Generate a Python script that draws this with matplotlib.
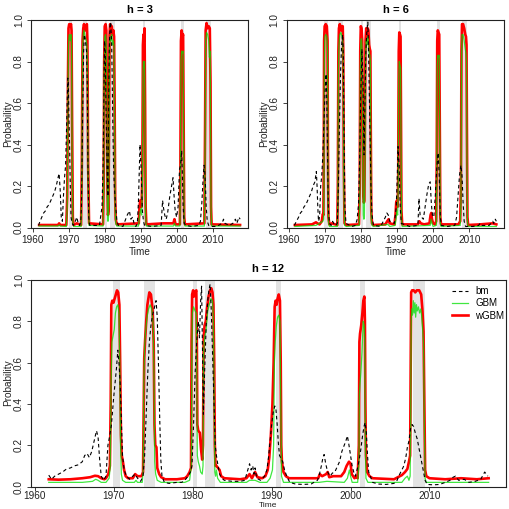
import matplotlib
matplotlib.use("Agg")
import matplotlib.pyplot as plt
from matplotlib.lines import Line2D

plt.rcParams['font.family'] = ['Liberation Sans', 'DejaVu Sans']

# NBER recession periods (shaded)
rec_start = [1969.92, 1973.83, 1980.0, 1981.5, 1990.5, 2001.17, 2007.92]
rec_end = [1970.83, 1975.17, 1980.5, 1982.83, 1991.17, 2001.83, 2009.42]

year_ticks = [1960, 1970, 1980, 1990, 2000, 2010]
prob_ticks = [0.0, 0.2, 0.4, 0.6, 0.8, 1.0]
prob_labels = ["0.0", "0.2", "0.4", "0.6", "0.8", "1.0"]
series_names = ["bm", "GBM", "wGBM"]

# ---------------- h = 3 ----------------
h3_bm_t = [1961.6, 1962.0, 1962.5, 1963.0, 1963.5, 1964.0, 1964.5, 1965.0, 1965.5, 1966.0, 1966.5, 1967.0, 1967.3,
           1967.6, 1967.9, 1968.2, 1968.5, 1968.8, 1969.1, 1969.4, 1969.7, 1969.85, 1970.0, 1970.2, 1970.4, 1970.6,
           1970.9, 1971.3, 1971.8, 1972.2, 1972.6, 1973.0, 1973.3, 1973.5, 1973.8, 1974.1, 1974.3, 1974.6, 1974.9,
           1975.1, 1975.3, 1975.5, 1975.8, 1977.0, 1978.5, 1978.8, 1979.2, 1979.5, 1979.7, 1979.9, 1980.1, 1980.3,
           1980.6, 1980.85, 1981.0, 1981.2, 1981.4, 1981.6, 1981.85, 1982.0, 1982.2, 1982.4, 1982.6, 1982.8, 1983.0,
           1983.3, 1983.7, 1985.0, 1986.2, 1986.8, 1987.2, 1987.7, 1988.2, 1988.6, 1989.0, 1989.3, 1989.5, 1989.75,
           1990.0, 1990.2, 1990.4, 1990.7, 1991.0, 1993.0, 1995.6, 1996.0, 1996.3, 1996.6, 1997.0, 1997.4, 1998.0,
           1998.5, 1998.9, 1999.2, 1999.5, 1999.9, 2000.3, 2000.7, 2001.0, 2001.3, 2001.5, 2001.7, 2002.0, 2002.5,
           2004.0, 2006.0, 2006.5, 2006.9, 2007.2, 2007.5, 2007.7, 2007.9, 2008.1, 2008.4, 2008.8, 2009.5, 2011.0,
           2012.5, 2012.9, 2013.3, 2014.5, 2015.5, 2016.2, 2016.6, 2017.2, 2017.5]
h3_bm_p = [0.01, 0.03, 0.05, 0.07, 0.08, 0.10, 0.11, 0.13, 0.15, 0.17, 0.20, 0.24, 0.26,
           0.18, 0.05, 0.03, 0.15, 0.24, 0.30, 0.50, 0.72, 0.70, 0.55, 0.40, 0.20, 0.05,
           0.02, 0.01, 0.03, 0.05, 0.02, 0.01, 0.03, 0.10, 0.50, 0.85, 0.93, 0.90, 0.85,
           0.70, 0.30, 0.05, 0.01, 0.01, 0.01, 0.05, 0.10, 0.30, 0.60, 0.90, 0.85, 0.60,
           0.30, 0.15, 0.50, 0.85, 0.97, 0.99, 0.90, 0.75, 0.50, 0.30, 0.20, 0.15, 0.10,
           0.04, 0.01, 0.005, 0.06, 0.08, 0.04, 0.05, 0.01, 0.005, 0.02, 0.12, 0.25, 0.40,
           0.30, 0.20, 0.08, 0.03, 0.01, 0.005, 0.01, 0.13, 0.09, 0.06, 0.04, 0.07, 0.15,
           0.20, 0.24, 0.15, 0.08, 0.05, 0.10, 0.28, 0.30, 0.37, 0.25, 0.10, 0.02, 0.01,
           0.005, 0.01, 0.03, 0.12, 0.22, 0.30, 0.27, 0.20, 0.10, 0.03, 0.01, 0.005, 0.005,
           0.02, 0.04, 0.02, 0.01, 0.02, 0.04, 0.02, 0.05, 0.04]

h3_gbm_t = [1961.75, 1967.0, 1967.3, 1967.6, 1969.3, 1969.55, 1969.75, 1969.9, 1970.1, 1970.4, 1970.6, 1970.75,
            1970.9, 1971.1, 1971.3, 1973.4, 1973.6, 1973.8, 1974.0, 1974.2, 1974.5, 1974.8, 1975.0, 1975.15,
            1975.35, 1975.6, 1979.5, 1979.65, 1979.8, 1979.95, 1980.2, 1980.4, 1980.55, 1980.7, 1980.85, 1981.0,
            1981.15, 1981.3, 1981.45, 1981.7, 1981.9, 1982.1, 1982.35, 1982.55, 1982.7, 1982.85, 1983.0, 1983.3,
            1989.3, 1989.6, 1989.8, 1990.0, 1990.2, 1990.4, 1990.55, 1990.7, 1990.85, 1991.0, 1991.15, 1991.3,
            1991.5, 1999.0, 1999.3, 1999.6, 2000.8, 2000.95, 2001.1, 2001.3, 2001.5, 2001.7, 2001.85, 2002.0,
            2002.2, 2007.6, 2007.8, 2007.95, 2008.2, 2008.5, 2008.8, 2009.0, 2009.2, 2009.3, 2009.45, 2009.6,
            2017.5]
h3_gbm_p = [0.007, 0.007, 0.012, 0.007, 0.005, 0.10, 0.60, 0.88, 0.93, 0.90, 0.93, 0.88,
            0.40, 0.03, 0.005, 0.005, 0.25, 0.85, 0.93, 0.95, 0.92, 0.90, 0.88, 0.80,
            0.25, 0.01, 0.007, 0.15, 0.70, 0.92, 0.93, 0.88, 0.50, 0.10, 0.03, 0.05,
            0.40, 0.88, 0.92, 0.90, 0.93, 0.88, 0.90, 0.87, 0.50, 0.10, 0.02, 0.007,
            0.007, 0.05, 0.08, 0.09, 0.06, 0.20, 0.75, 0.80, 0.77, 0.80, 0.40, 0.05,
            0.007, 0.007, 0.02, 0.007, 0.007, 0.20, 0.80, 0.85, 0.84, 0.85, 0.40, 0.03,
            0.007, 0.007, 0.40, 0.90, 0.94, 0.93, 0.90, 0.82, 0.85, 0.60, 0.08, 0.007,
            0.007]

h3_wgbm_t = [1961.75, 1967.0, 1967.3, 1967.6, 1969.3, 1969.55, 1969.75, 1969.9, 1970.1, 1970.4, 1970.6, 1970.75,
             1970.9, 1971.1, 1971.3, 1972.2, 1973.4, 1973.6, 1973.8, 1974.0, 1974.2, 1974.5, 1974.8, 1975.0,
             1975.15, 1975.35, 1975.6, 1979.5, 1979.65, 1979.8, 1979.95, 1980.2, 1980.4, 1980.55, 1980.7, 1980.85,
             1981.0, 1981.15, 1981.3, 1981.45, 1981.7, 1981.9, 1982.1, 1982.35, 1982.55, 1982.7, 1982.85, 1983.0,
             1983.3, 1989.4, 1989.6, 1989.8, 1990.0, 1990.2, 1990.4, 1990.55, 1990.7, 1990.85, 1991.0, 1991.15,
             1991.3, 1991.5, 1996.2, 1999.0, 1999.3, 1999.6, 2000.8, 2000.95, 2001.1, 2001.3, 2001.5, 2001.7,
             2001.85, 2002.0, 2002.2, 2007.6, 2007.8, 2007.95, 2008.2, 2008.5, 2008.8, 2009.1, 2009.3, 2009.45,
             2009.6, 2017.5]
h3_wgbm_p = [0.012, 0.012, 0.02, 0.012, 0.012, 0.15, 0.70, 0.96, 0.98, 0.97, 0.98, 0.95,
             0.50, 0.05, 0.012, 0.02, 0.012, 0.30, 0.90, 0.96, 0.98, 0.95, 0.97, 0.98,
             0.90, 0.30, 0.02, 0.015, 0.20, 0.80, 0.97, 0.98, 0.95, 0.60, 0.20, 0.06,
             0.08, 0.50, 0.93, 0.98, 0.95, 0.97, 0.93, 0.95, 0.92, 0.60, 0.15, 0.04,
             0.015, 0.02, 0.10, 0.13, 0.12, 0.10, 0.30, 0.88, 0.93, 0.90, 0.96, 0.60,
             0.10, 0.015, 0.02, 0.02, 0.04, 0.015, 0.015, 0.30, 0.90, 0.95, 0.92, 0.93,
             0.50, 0.05, 0.015, 0.02, 0.50, 0.95, 0.985, 0.96, 0.97, 0.96, 0.70, 0.10,
             0.015, 0.012]

# ---------------- h = 6 ----------------
h6_bm_t = [1961.6, 1962.2, 1962.8, 1963.3, 1963.8, 1964.3, 1964.8, 1965.3, 1965.8, 1966.3, 1966.8, 1967.3, 1967.7,
           1967.9, 1968.1, 1968.3, 1968.6, 1968.9, 1969.2, 1969.5, 1969.8, 1970.1, 1970.4, 1970.6, 1970.8, 1971.0,
           1971.3, 1971.8, 1972.2, 1972.5, 1973.0, 1973.5, 1973.8, 1974.1, 1974.4, 1974.7, 1975.0, 1975.2, 1975.4,
           1975.6, 1975.9, 1977.5, 1978.5, 1979.0, 1979.4, 1979.7, 1980.0, 1980.3, 1980.6, 1980.9, 1981.1, 1981.4,
           1981.7, 1981.95, 1982.2, 1982.5, 1982.8, 1983.1, 1983.5, 1985.5, 1986.8, 1987.2, 1987.6, 1988.0, 1989.3,
           1989.8, 1990.1, 1990.3, 1990.6, 1990.9, 1991.2, 1993.5, 1995.8, 1996.1, 1996.4, 1996.8, 1997.3, 1997.8,
           1998.3, 1998.8, 1999.2, 1999.5, 1999.8, 2000.2, 2000.6, 2001.0, 2001.4, 2001.7, 2002.0, 2002.3, 2004.0,
           2006.0, 2006.5, 2006.9, 2007.3, 2007.7, 2008.0, 2008.3, 2008.6, 2009.0, 2011.0, 2012.6, 2013.0, 2013.4,
           2015.5, 2016.5, 2016.8, 2017.2, 2017.5]
h6_bm_p = [0.01, 0.03, 0.05, 0.07, 0.08, 0.10, 0.11, 0.13, 0.15, 0.17, 0.20, 0.22, 0.27,
           0.20, 0.10, 0.03, 0.05, 0.20, 0.25, 0.35, 0.50, 0.65, 0.74, 0.60, 0.35, 0.10,
           0.02, 0.01, 0.03, 0.02, 0.01, 0.02, 0.20, 0.50, 0.75, 0.88, 0.93, 0.80, 0.40,
           0.10, 0.02, 0.005, 0.01, 0.04, 0.12, 0.35, 0.65, 0.86, 0.70, 0.35, 0.55, 0.85,
           0.95, 0.99, 0.80, 0.50, 0.20, 0.06, 0.01, 0.005, 0.05, 0.07, 0.06, 0.03, 0.02,
           0.10, 0.25, 0.39, 0.30, 0.10, 0.02, 0.005, 0.01, 0.14, 0.06, 0.05, 0.04, 0.10,
           0.16, 0.21, 0.22, 0.12, 0.06, 0.05, 0.15, 0.28, 0.36, 0.25, 0.05, 0.01, 0.005,
           0.01, 0.05, 0.15, 0.25, 0.30, 0.25, 0.12, 0.03, 0.005, 0.005, 0.01, 0.02, 0.01,
           0.01, 0.03, 0.02, 0.04, 0.03]

h6_gbm_t = [1961.75, 1967.6, 1969.5, 1969.7, 1969.8, 1969.9, 1970.05, 1970.3, 1970.6, 1970.8, 1970.9, 1971.05,
            1971.3, 1973.5, 1973.65, 1973.8, 1973.95, 1974.2, 1974.5, 1974.8, 1975.0, 1975.15, 1975.3, 1975.5,
            1976.0, 1979.55, 1979.72, 1979.85, 1980.0, 1980.2, 1980.4, 1980.55, 1980.7, 1980.85, 1981.0, 1981.15,
            1981.3, 1981.5, 1981.7, 1981.9, 1982.1, 1982.3, 1982.5, 1982.65, 1982.75, 1982.9, 1983.1, 1983.5,
            1987.5, 1988.0, 1989.5, 1989.8, 1990.0, 1990.2, 1990.35, 1990.5, 1990.65, 1990.85, 1991.0, 1991.1,
            1991.25, 1991.45, 1999.2, 1999.45, 1999.7, 2000.0, 2000.9, 2001.0, 2001.15, 2001.3, 2001.5, 2001.7,
            2001.85, 2002.0, 2002.2, 2007.5, 2007.7, 2007.85, 2008.0, 2008.3, 2008.6, 2008.9, 2009.1, 2009.25,
            2009.35, 2009.5, 2009.7, 2017.5]
h6_gbm_p = [0.005, 0.01, 0.03, 0.04, 0.20, 0.80, 0.92, 0.93, 0.92, 0.85, 0.30, 0.03,
            0.005, 0.005, 0.12, 0.75, 0.88, 0.93, 0.94, 0.92, 0.90, 0.78, 0.20, 0.01,
            0.005, 0.01, 0.12, 0.75, 0.90, 0.91, 0.85, 0.30, 0.06, 0.04, 0.05, 0.35,
            0.82, 0.90, 0.88, 0.92, 0.90, 0.84, 0.83, 0.80, 0.40, 0.04, 0.01, 0.005,
            0.015, 0.005, 0.01, 0.05, 0.08, 0.06, 0.20, 0.72, 0.80, 0.78, 0.77, 0.50,
            0.04, 0.005, 0.01, 0.04, 0.02, 0.005, 0.01, 0.20, 0.78, 0.83, 0.82, 0.83,
            0.40, 0.02, 0.005, 0.01, 0.12, 0.80, 0.93, 0.93, 0.90, 0.86, 0.84, 0.80,
            0.40, 0.03, 0.005, 0.005]

h6_wgbm_t = [1961.75, 1966.5, 1967.6, 1968.0, 1968.6, 1969.2, 1969.5, 1969.65, 1969.75, 1969.85, 1970.0, 1970.3,
             1970.6, 1970.8, 1970.9, 1971.05, 1971.3, 1972.0, 1973.5, 1973.65, 1973.8, 1973.95, 1974.2, 1974.5,
             1974.8, 1975.0, 1975.15, 1975.3, 1975.5, 1976.0, 1979.5, 1979.7, 1979.85, 1980.0, 1980.2, 1980.4,
             1980.55, 1980.7, 1980.85, 1981.0, 1981.15, 1981.3, 1981.5, 1981.7, 1981.9, 1982.1, 1982.3, 1982.5,
             1982.65, 1982.75, 1982.9, 1983.1, 1983.5, 1986.8, 1987.3, 1987.7, 1988.0, 1989.3, 1989.6, 1989.8,
             1990.0, 1990.2, 1990.35, 1990.5, 1990.65, 1990.85, 1991.0, 1991.1, 1991.25, 1991.45, 1995.8, 1996.2,
             1996.6, 1997.5, 1999.0, 1999.3, 1999.5, 1999.7, 2000.0, 2000.5, 2000.85, 2001.0, 2001.15, 2001.3,
             2001.5, 2001.7, 2001.85, 2002.0, 2002.2, 2007.0, 2007.5, 2007.7, 2007.85, 2008.0, 2008.3, 2008.6,
             2008.9, 2009.1, 2009.25, 2009.35, 2009.5, 2009.7, 2013.0, 2016.5, 2017.5]
h6_wgbm_p = [0.012, 0.015, 0.025, 0.02, 0.015, 0.03, 0.065, 0.06, 0.30, 0.90, 0.97, 0.98,
             0.97, 0.90, 0.40, 0.05, 0.015, 0.02, 0.012, 0.20, 0.85, 0.96, 0.98, 0.95,
             0.97, 0.97, 0.85, 0.30, 0.02, 0.012, 0.015, 0.20, 0.85, 0.97, 0.96, 0.90,
             0.40, 0.15, 0.12, 0.13, 0.50, 0.90, 0.96, 0.93, 0.96, 0.95, 0.88, 0.86,
             0.85, 0.50, 0.08, 0.02, 0.012, 0.015, 0.03, 0.04, 0.02, 0.015, 0.06, 0.12,
             0.13, 0.10, 0.25, 0.85, 0.94, 0.93, 0.92, 0.60, 0.08, 0.015, 0.015, 0.03,
             0.02, 0.015, 0.02, 0.06, 0.07, 0.04, 0.02, 0.015, 0.03, 0.30, 0.90, 0.95,
             0.94, 0.93, 0.50, 0.05, 0.015, 0.015, 0.03, 0.20, 0.85, 0.98, 0.98, 0.96,
             0.93, 0.92, 0.88, 0.50, 0.05, 0.012, 0.015, 0.02, 0.015]

# ---------------- h = 12 ----------------
h12_bm_t = [1961.75, 1962.1, 1962.5, 1963.0, 1963.5, 1964.0, 1964.5, 1965.0, 1965.5, 1966.0, 1966.3, 1966.6,
            1966.9, 1967.2, 1967.5, 1967.8, 1968.0, 1968.2, 1968.4, 1968.7, 1969.0, 1969.25, 1969.45, 1969.7,
            1969.95, 1970.15, 1970.35, 1970.5, 1970.65, 1970.8, 1970.95, 1971.1, 1971.3, 1971.6, 1972.0, 1972.4,
            1972.7, 1973.0, 1973.4, 1973.7, 1973.9, 1974.1, 1974.3, 1974.5, 1974.7, 1974.9, 1975.1, 1975.35,
            1975.5, 1975.65, 1975.8, 1975.95, 1976.1, 1976.4, 1977.0, 1978.0, 1978.6, 1979.0, 1979.4, 1979.7,
            1979.9, 1980.1, 1980.3, 1980.5, 1980.7, 1980.85, 1981.0, 1981.12, 1981.25, 1981.35, 1981.5, 1981.7,
            1981.9, 1982.05, 1982.2, 1982.35, 1982.5, 1982.7, 1982.85, 1983.0, 1983.2, 1983.4, 1983.7, 1984.0,
            1985.0, 1986.0, 1986.6, 1986.9, 1987.2, 1987.4, 1987.6, 1987.75, 1987.9, 1988.1, 1988.6, 1989.1,
            1989.4, 1989.6, 1989.8, 1990.0, 1990.2, 1990.4, 1990.55, 1990.7, 1990.85, 1991.0, 1991.2, 1991.4,
            1991.6, 1991.9, 1992.3, 1993.0, 1994.0, 1995.0, 1995.8, 1996.0, 1996.3, 1996.5, 1996.65, 1996.85,
            1997.1, 1997.4, 1997.7, 1998.0, 1998.3, 1998.6, 1998.9, 1999.2, 1999.4, 1999.6, 1999.8, 2000.0,
            2000.2, 2000.4, 2000.6, 2000.85, 2001.1, 2001.3, 2001.5, 2001.7, 2001.85, 2002.0, 2002.15, 2002.3,
            2002.5, 2002.8, 2003.5, 2004.5, 2005.5, 2005.9, 2006.1, 2006.5, 2006.75, 2007.0, 2007.2, 2007.4,
            2007.6, 2007.8, 2008.0, 2008.2, 2008.45, 2008.65, 2008.85, 2009.05, 2009.25, 2009.45, 2009.7, 2010.5,
            2011.3, 2012.0, 2012.6, 2013.0, 2013.3, 2013.7, 2014.4, 2015.0, 2015.8, 2016.5, 2017.0, 2017.4]
h12_bm_p = [0.055, 0.035, 0.05, 0.06, 0.07, 0.085, 0.09, 0.10, 0.105, 0.12, 0.15, 0.16,
            0.14, 0.17, 0.22, 0.27, 0.24, 0.13, 0.05, 0.03, 0.05, 0.20, 0.24, 0.30,
            0.42, 0.50, 0.58, 0.66, 0.60, 0.50, 0.32, 0.15, 0.08, 0.05, 0.035, 0.05,
            0.06, 0.04, 0.025, 0.05, 0.15, 0.35, 0.55, 0.70, 0.78, 0.83, 0.86, 0.90,
            0.82, 0.60, 0.35, 0.13, 0.05, 0.02, 0.015, 0.02, 0.02, 0.03, 0.05, 0.07,
            0.10, 0.30, 0.55, 0.70, 0.80, 0.72, 0.90, 0.97, 0.60, 0.35, 0.55, 0.78,
            0.90, 0.95, 0.98, 0.85, 0.65, 0.40, 0.20, 0.15, 0.10, 0.06, 0.04, 0.03,
            0.025, 0.025, 0.03, 0.07, 0.11, 0.08, 0.10, 0.06, 0.09, 0.04, 0.03, 0.05,
            0.08, 0.14, 0.22, 0.30, 0.36, 0.39, 0.37, 0.30, 0.21, 0.15, 0.135, 0.12,
            0.085, 0.05, 0.02, 0.012, 0.01, 0.012, 0.03, 0.05, 0.10, 0.14, 0.155, 0.11,
            0.07, 0.05, 0.065, 0.07, 0.095, 0.12, 0.17, 0.20, 0.22, 0.245, 0.20, 0.15,
            0.10, 0.07, 0.05, 0.085, 0.13, 0.18, 0.24, 0.29, 0.31, 0.26, 0.15, 0.07,
            0.05, 0.02, 0.012, 0.01, 0.015, 0.03, 0.05, 0.08, 0.10, 0.14, 0.19, 0.22,
            0.28, 0.30, 0.29, 0.26, 0.23, 0.19, 0.15, 0.11, 0.07, 0.03, 0.01, 0.008,
            0.01, 0.02, 0.03, 0.045, 0.05, 0.03, 0.035, 0.02, 0.025, 0.035, 0.07, 0.05]

h12_gbm_t = [1961.75, 1966.0, 1967.3, 1967.7, 1968.0, 1968.4, 1969.0, 1969.4, 1969.55, 1969.65, 1969.75, 1969.9,
             1970.05, 1970.2, 1970.35, 1970.5, 1970.65, 1970.75, 1970.85, 1970.95, 1971.1, 1971.5, 1972.6, 1972.8,
             1973.0, 1973.6, 1973.72, 1973.8, 1973.9, 1974.0, 1974.2, 1974.4, 1974.6, 1974.8, 1975.0, 1975.1,
             1975.18, 1975.3, 1975.5, 1976.0, 1979.0, 1979.6, 1979.82, 1979.88, 1979.95, 1980.1, 1980.3, 1980.45,
             1980.52, 1980.58, 1980.7, 1980.85, 1981.0, 1981.2, 1981.3, 1981.38, 1981.5, 1981.7, 1981.9, 1982.1,
             1982.3, 1982.5, 1982.62, 1982.72, 1982.8, 1982.9, 1983.0, 1983.15, 1983.5, 1986.8, 1987.2, 1987.9,
             1988.5, 1989.4, 1989.8, 1990.1, 1990.25, 1990.35, 1990.45, 1990.6, 1990.75, 1990.9, 1991.05, 1991.15,
             1991.25, 1991.5, 1996.0, 1997.0, 1999.2, 1999.6, 1999.85, 2000.0, 2000.2, 2000.9, 2001.05, 2001.12,
             2001.2, 2001.3, 2001.45, 2001.6, 2001.72, 2001.8, 2001.88, 2001.95, 2002.2, 2006.5, 2006.9, 2007.2,
             2007.4, 2007.55, 2007.62, 2007.68, 2007.75, 2007.85, 2007.95, 2008.05, 2008.15, 2008.25, 2008.35,
             2008.45, 2008.6, 2008.75, 2008.9, 2009.0, 2009.1, 2009.25, 2009.35, 2009.45, 2009.6, 2017.5]
h12_gbm_p = [0.02, 0.02, 0.025, 0.035, 0.03, 0.02, 0.02, 0.04, 0.10, 0.50, 0.70, 0.73,
             0.76, 0.84, 0.87, 0.88, 0.84, 0.60, 0.20, 0.06, 0.03, 0.02, 0.02, 0.03,
             0.02, 0.02, 0.08, 0.50, 0.68, 0.74, 0.82, 0.86, 0.88, 0.86, 0.78, 0.50,
             0.12, 0.06, 0.03, 0.02, 0.02, 0.03, 0.10, 0.60, 0.84, 0.87, 0.85, 0.84,
             0.50, 0.15, 0.12, 0.10, 0.07, 0.06, 0.10, 0.65, 0.72, 0.76, 0.85, 0.88,
             0.91, 0.90, 0.82, 0.40, 0.07, 0.05, 0.08, 0.04, 0.02, 0.02, 0.03, 0.03,
             0.02, 0.02, 0.04, 0.08, 0.20, 0.60, 0.70, 0.78, 0.82, 0.83, 0.80, 0.40,
             0.05, 0.02, 0.02, 0.025, 0.02, 0.04, 0.08, 0.05, 0.02, 0.02, 0.10, 0.45,
             0.50, 0.55, 0.65, 0.80, 0.78, 0.70, 0.20, 0.04, 0.02, 0.02, 0.04, 0.05,
             0.03, 0.05, 0.30, 0.80, 0.86, 0.83, 0.90, 0.84, 0.89, 0.82, 0.88,
             0.85, 0.87, 0.84, 0.86, 0.83, 0.78, 0.70, 0.30, 0.04, 0.02, 0.02]

h12_wgbm_t = [1961.75, 1963.0, 1964.5, 1966.0, 1967.0, 1967.6, 1968.0, 1968.4, 1968.8, 1969.0, 1969.3, 1969.5,
              1969.6, 1969.68, 1969.8, 1969.95, 1970.1, 1970.25, 1970.4, 1970.55, 1970.7, 1970.8, 1970.9, 1971.0,
              1971.15, 1971.3, 1971.5, 1971.8, 1972.4, 1972.7, 1973.0, 1973.5, 1973.7, 1973.78, 1973.85, 1973.95,
              1974.1, 1974.25, 1974.5, 1974.7, 1974.9, 1975.05, 1975.15, 1975.25, 1975.4, 1975.5, 1975.75, 1976.0,
              1976.5, 1978.0, 1979.0, 1979.3, 1979.6, 1979.78, 1979.85, 1979.92, 1980.05, 1980.15, 1980.3, 1980.45,
              1980.52, 1980.58, 1980.7, 1980.9, 1981.05, 1981.2, 1981.3, 1981.38, 1981.5, 1981.65, 1981.8, 1982.0,
              1982.2, 1982.35, 1982.5, 1982.62, 1982.72, 1982.8, 1982.88, 1983.0, 1983.2, 1983.4, 1983.6, 1984.0,
              1986.0, 1986.8, 1987.2, 1987.5, 1987.9, 1988.2, 1988.8, 1989.2, 1989.5, 1989.7, 1989.9, 1990.1,
              1990.25, 1990.38, 1990.5, 1990.62, 1990.75, 1990.9, 1991.05, 1991.15, 1991.22, 1991.3, 1991.5,
              1991.8, 1992.2, 1995.9, 1996.1, 1996.4, 1996.9, 1997.1, 1997.3, 1997.8, 1998.3, 1998.8, 1999.2,
              1999.5, 1999.8, 2000.0, 2000.15, 2000.5, 2000.8, 2000.9, 2001.05, 2001.12, 2001.2, 2001.35, 2001.5,
              2001.62, 2001.75, 2001.82, 2001.88, 2001.95, 2002.1, 2002.4, 2002.8, 2005.5, 2006.0, 2006.5, 2006.9,
              2007.2, 2007.4, 2007.55, 2007.62, 2007.68, 2007.8, 2008.0, 2008.2, 2008.4, 2008.7, 2008.95, 2009.1,
              2009.25, 2009.35, 2009.45, 2009.6, 2010.0, 2012.0, 2014.0, 2016.0, 2017.5]
h12_wgbm_p = [0.035, 0.033, 0.035, 0.04, 0.045, 0.052, 0.05, 0.04, 0.035, 0.04, 0.06, 0.10,
              0.40, 0.88, 0.90, 0.89, 0.91, 0.93, 0.95, 0.94, 0.88, 0.60, 0.25, 0.15,
              0.12, 0.08, 0.05, 0.04, 0.04, 0.06, 0.05, 0.05, 0.07, 0.35, 0.62, 0.70,
              0.80, 0.88, 0.94, 0.93, 0.86, 0.70, 0.30, 0.20, 0.19, 0.09, 0.06, 0.045,
              0.035, 0.035, 0.04, 0.05, 0.07, 0.09, 0.70, 0.93, 0.95, 0.92, 0.94, 0.95,
              0.70, 0.30, 0.27, 0.26, 0.18, 0.13, 0.20, 0.72, 0.78, 0.80, 0.86, 0.92,
              0.95, 0.96, 0.94, 0.88, 0.60, 0.20, 0.10, 0.10, 0.09, 0.08, 0.05, 0.04,
              0.035, 0.04, 0.06, 0.04, 0.07, 0.045, 0.04, 0.05, 0.08, 0.14, 0.25, 0.40,
              0.60, 0.87, 0.90, 0.88, 0.91, 0.93, 0.90, 0.60, 0.20, 0.12, 0.07,
              0.05, 0.04, 0.04, 0.06, 0.05, 0.06, 0.07, 0.045, 0.05, 0.05, 0.05, 0.07,
              0.10, 0.12, 0.11, 0.06, 0.04, 0.05, 0.04, 0.20, 0.70, 0.74, 0.78, 0.84,
              0.90, 0.92, 0.80, 0.40, 0.15, 0.07, 0.05, 0.04, 0.035, 0.045, 0.055, 0.07,
              0.085, 0.12, 0.15, 0.60, 0.94, 0.95, 0.95, 0.94, 0.95, 0.95, 0.93, 0.86,
              0.75, 0.40, 0.08, 0.05, 0.04, 0.035, 0.04, 0.035, 0.04]

# ---------------- drawing ----------------
FIG_W, FIG_H = 510, 509
fig = plt.figure(figsize=(FIG_W / 100, FIG_H / 100), dpi=100)


def box(left, top, right, bottom):
    return [left / FIG_W, 1 - bottom / FIG_H, (right - left) / FIG_W, (bottom - top) / FIG_H]


def panel(rect, bm_t, bm_p, gbm_t, gbm_p, wgbm_t, wgbm_p, xpad=2, xlen=3.2):
    ax = fig.add_axes(rect)
    for s, e in zip(rec_start, rec_end):
        ax.axvspan(s, e, color='#e3e3e3', lw=0, zorder=0)
    ax.plot(wgbm_t, wgbm_p, color='#ff0000', lw=1.9, zorder=2, solid_joinstyle='round')
    ax.plot(gbm_t, gbm_p, color='#00e000', lw=0.9, alpha=0.75, zorder=3)
    ax.plot(bm_t, bm_p, color='black', lw=0.8, dashes=(3.2, 2.6), zorder=4)
    ax.set_xlim(1959.5, 2019.7)
    ax.set_ylim(0, 1.0)
    ax.set_xticks(year_ticks)
    ax.set_xticklabels([str(y) for y in year_ticks])
    ax.set_yticks(prob_ticks)
    ax.set_yticklabels(prob_labels, rotation=90, va='center')
    ax.tick_params(direction='out', length=3.2, width=0.6, labelsize=7.2, pad=2, colors='#222222')
    ax.tick_params(axis='x', pad=xpad, length=xlen)
    for sp in ax.spines.values():
        sp.set_linewidth(0.8)
        sp.set_color('#222222')
    return ax


ax1 = panel(box(31, 20, 248, 227.5), h3_bm_t, h3_bm_p, h3_gbm_t, h3_gbm_p, h3_wgbm_t, h3_wgbm_p)
ax2 = panel(box(286.7, 20, 504.3, 227.5), h6_bm_t, h6_bm_p, h6_gbm_t, h6_gbm_p, h6_wgbm_t, h6_wgbm_p)
ax3 = panel(box(31, 280, 506, 486.5), h12_bm_t, h12_bm_p, h12_gbm_t, h12_gbm_p, h12_wgbm_t, h12_wgbm_p,
            xpad=0.8, xlen=2.6)

# titles
fig.text(139.5 / FIG_W, 1 - 10 / FIG_H, 'h = 3', ha='center', va='center', fontsize=8, fontweight='bold')
fig.text(395.5 / FIG_W, 1 - 10 / FIG_H, 'h = 6', ha='center', va='center', fontsize=8, fontweight='bold')
fig.text(268.5 / FIG_W, 1 - 269 / FIG_H, 'h = 12', ha='center', va='center', fontsize=8, fontweight='bold')

# axis labels
for xc in (139.5, 395.5):
    fig.text(xc / FIG_W, 1 - 252 / FIG_H, 'Time', ha='center', va='center', fontsize=7.2, color='#222222')
fig.text(268.5 / FIG_W, 1 - 508.9 / FIG_H, 'Time', ha='center', va='bottom', fontsize=6.0, color='#222222')
fig.text(8 / FIG_W, 1 - 123.5 / FIG_H, 'Probability', rotation=90, ha='center', va='center', fontsize=7.2, color='#222222')
fig.text(264 / FIG_W, 1 - 123.5 / FIG_H, 'Probability', rotation=90, ha='center', va='center', fontsize=7.2, color='#222222')
fig.text(8 / FIG_W, 1 - 383 / FIG_H, 'Probability', rotation=90, ha='center', va='center', fontsize=7.2, color='#222222')

# legend
handles = [Line2D([], [], color='black', lw=0.8, dashes=(3.2, 2.6)),
           Line2D([], [], color='#00e000', lw=0.9, alpha=0.75),
           Line2D([], [], color='#ff0000', lw=1.9)]
ax3.legend(handles, series_names, loc='upper left', bbox_to_anchor=(452 / FIG_W, 1 - 286 / FIG_H),
           bbox_transform=fig.transFigure, frameon=False, fontsize=7, handlelength=1.6,
           handletextpad=0.8, labelspacing=0.25, borderpad=0, borderaxespad=0)

fig.savefig('out.png', dpi=100)
